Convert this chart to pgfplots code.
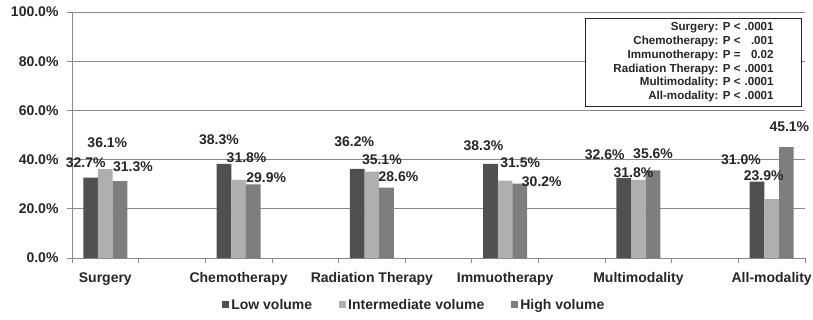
\documentclass[border=0pt]{standalone}
\usepackage{pgfplots}
\pgfplotsset{compat=1.18}
\usepackage{pgfplotstable}
\usepackage{fontspec}
\setmainfont{Liberation Sans}
\definecolor{lowc}{HTML}{505050}
\definecolor{midc}{HTML}{AFAFAF}
\definecolor{highc}{HTML}{7E7E7E}
\definecolor{txt}{HTML}{262626}
\definecolor{gridc}{HTML}{8A8A8A}
\newcommand{\bigf}{\fontsize{14bp}{16bp}\selectfont\bfseries}
\newcommand{\smallf}{\fontsize{11.6bp}{12.8bp}\selectfont\bfseries}

\pgfplotstableread{
x y lab dx dy
-0.22 32.7 32.7 -5 14.6
1.78 38.3 38.3 -5 24
3.78 36.2 36.2 -3 27
5.78 38.3 38.3 -7 18
7.78 32.6 32.6 -19 23
9.78 31.0 31.0 -16 22
}\lowtab
\pgfplotstableread{
x y lab dx dy
0 36.1 36.1 2 27
2 31.8 31.8 8 22
4 35.1 35.1 10 12
6 31.5 31.5 15 18
8 31.8 31.8 -5 7
10 23.9 23.9 -8 24
}\midtab
\pgfplotstableread{
x y lab dx dy
0.22 31.3 31.3 13 14
2.22 29.9 29.9 13 7
4.22 28.6 28.6 12 11
6.22 30.2 30.2 22 2
8.22 35.6 35.6 0 17
10.22 45.1 45.1 3 20
}\hightab

\begin{document}
\begin{tikzpicture}[font=\bigf, text=txt]
\path[use as bounding box] (-72bp,-62bp) rectangle (741bp,258bp);
\begin{axis}[
  at={(0,0)}, anchor=south west,
  scale only axis, width=733bp, height=246bp,
  xmin=-0.5, xmax=10.5, ymin=0, ymax=100,
  axis lines=left, axis line style={-, draw=gridc, line width=0.8pt},
  ytick={0,20,40,60,80,100},
  yticklabels={0.0\%,20.0\%,40.0\%,60.0\%,80.0\%,100.0\%},
  xtick={0,2,4,6,8,10},
  xticklabels={Surgery,Chemotherapy,Radiation Therapy,Immuotherapy,Multimodality,All-modality},
  major x tick style={draw=none},
  minor xtick={-0.5,0.5,1.5,2.5,3.5,4.5,5.5,6.5,7.5,8.5,9.5,10.5},
  tick align=outside,
  major tick length=5bp, minor tick length=5bp,
  tick style={gridc, line width=0.8pt},
  ymajorgrids, major grid style={gridc, line width=0.8pt},
  tick label style={font=\bigf, text=txt},
  xticklabel style={yshift=-6bp},
  yticklabel style={xshift=-5bp},
  ybar, bar width=0.22,
  point meta=explicit symbolic,
  nodes near coords={\pgfplotspointmeta\%},
  visualization depends on={\thisrow{dx} \as \dx},
  visualization depends on={\thisrow{dy} \as \dy},
  every node near coord/.append style={font=\bigf, text=txt, anchor=center, xshift=\dx bp, yshift=\dy bp},
  legend style={at={(0.467,-0.19)}, anchor=center, draw=none, fill=none, legend columns=3, font=\bigf,
    /tikz/every even column/.append style={column sep=25bp}},
  legend image code/.code={\fill[#1] (0bp,-3.5bp) rectangle (7bp,3.5bp);},
]
\addplot[fill=lowc, draw=none, bar shift=0pt] table[x=x, y=y, meta=lab] {\lowtab};
\addplot[fill=midc, draw=none, bar shift=0pt] table[x=x, y=y, meta=lab] {\midtab};
\addplot[fill=highc, draw=none, bar shift=0pt] table[x=x, y=y, meta=lab] {\hightab};
\legend{Low volume, Intermediate volume, High volume}
\end{axis}
\node[draw=txt, line width=0.8pt, fill=white, anchor=north east, inner xsep=28bp, inner ysep=3bp, font=\smallf] at (730bp,240bp)
 {\def\arraystretch{1.07}\begin{tabular}{@{}r@{ }l@{\hspace{4bp}}r@{}}
 Surgery: & P < & .0001\\
 Chemotherapy: & P < & .001\\
 Immunotherapy: & P = & 0.02\\
 Radiation Therapy: & P < & .0001\\
 Multimodality: & P < & .0001\\
 All-modality: & P < & .0001
 \end{tabular}};
\end{tikzpicture}
\end{document}
